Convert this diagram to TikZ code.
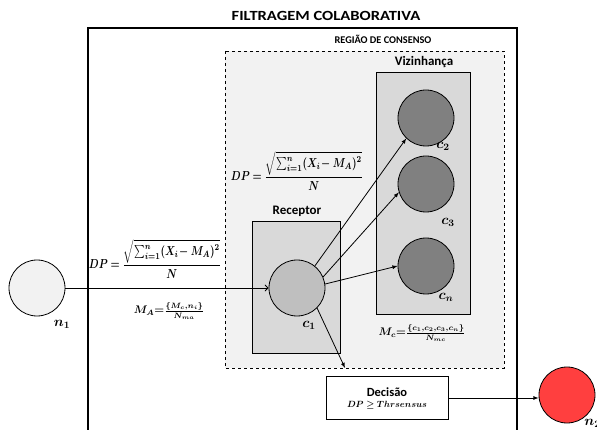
\RequirePackage{fix-cm}
\documentclass[tikz,border=0pt]{standalone}
\usepackage{fontspec}
\setmainfont{Carlito}
\usepackage{amsmath}
\usepackage{bm}
\usetikzlibrary{arrows,positioning,calc}

\definecolor{consenso}{HTML}{F2F2F2}
\definecolor{caixa}{HTML}{D9D9D9}
\definecolor{receptorcor}{HTML}{BFBFBF}
\definecolor{vizinhocor}{HTML}{808080}
\definecolor{decisaocor}{HTML}{FF3F3F}

\newcommand{\formuladp}{\scalebox{1.02}[1.3]{$\bm{DP = \dfrac{\sqrt{\textstyle\sum_{i=1}^{n}(X_i\!- M_A)^2}}{N}}$}}

\tikzset{
  no/.style={circle,draw,minimum size=56pt,inner sep=0pt},
  rotulo/.style={font=\bfseries\fontsize{13}{15}\selectfont},
  formula/.style={font=\fontsize{10}{12}\selectfont,inner sep=0pt},
  indice/.style={font=\fontsize{14}{16}\selectfont,inner sep=0pt},
  caixadec/.style={draw,fill=white,minimum width=122pt,minimum height=43pt,align=center,inner sep=1pt}
}

\begin{document}
\begin{tikzpicture}[>=angle 90,thick,x=1pt,y=-1pt]
\useasboundingbox (0,0) rectangle (597,430);
\node[font=\bfseries\fontsize{14}{16}\selectfont] (titulo) at (326,16) {\scalebox{1.18}[1]{FILTRAGEM COLABORATIVA}};
\draw[line width=1.1pt] (88,440) |- (517,28) -- (517,440);
\node[font=\bfseries\fontsize{10.3}{12}\selectfont] (regiao) at (383,39) {REGIÃO DE CONSENSO};
\draw[dashed,fill=consenso] (225,51) rectangle (504,368);
\node[rotulo] (vizinhanca) at (424,62) {Vizinhança};
\draw[fill=caixa] (376,72) rectangle (470,314);
\draw[fill=caixa] (252,221) rectangle (340,353);
\node[rotulo] (receptor) at (297,211) {Receptor};

\node[no,fill=vizinhocor] (c2) at (426,118) {};
\node[no,fill=vizinhocor] (c3) at (426,184) {};
\node[no,fill=vizinhocor] (cn) at (426,266) {};
\node[no,fill=receptorcor] (c1) at (297,288) {};
\node[no,fill=consenso] (n1) at (37,288) {};
\node[no,fill=decisaocor] (n2) at (567,395) {};

\node[indice] (lc2) at (443,146) {$\bm{c_2}$};
\node[indice] (lc3) at (448,222) {$\bm{c_3}$};
\node[indice] (lcn) at (446,297) {$\bm{c_n}$};
\node[indice] (lc1) at (309,325) {$\bm{c_1}$};
\node[indice] (ln1) at (62,324) {$\bm{n_1}$};
\node[indice,anchor=west] (ln2) at (584,423) {$\bm{n_2}$};

\node[formula] (dp1) at (155,259) {\formuladp};
\node[formula] (dp2) at (297,171) {\formuladp};
\node[formula] (ma) at (169,311) {\scalebox{1.1}{$\bm{M_A{=}\frac{\{M_c,n_i\}}{N_{ma}}}$}};
\node[formula] (mc) at (422,333) {\scalebox{1.1}{$\bm{M_c{=}\frac{\{c_1,c_2,c_3,c_n\}}{N_{mc}}}$}};

\node[caixadec] (decisao) at (387,398) {{\bfseries\fontsize{12.5}{14}\selectfont Decisão}\\[-1pt] {\fontsize{9}{10}\selectfont$\bm{DP \geq Thrsensus}$}};
\coordinate (limite) at (345,368);

\draw[->] (n1) -- (c1);
\draw[-latex] (c1.51) -- (c2.226);
\draw[-latex] (c1.23) -- (c3.197);
\draw[-latex] (c1.8) -- (cn.west);
\draw[-latex] (c1.-45) -- (limite);
\draw[-latex] (decisao.east) -- (decisao.east -| n2.west);
\end{tikzpicture}
\end{document}
